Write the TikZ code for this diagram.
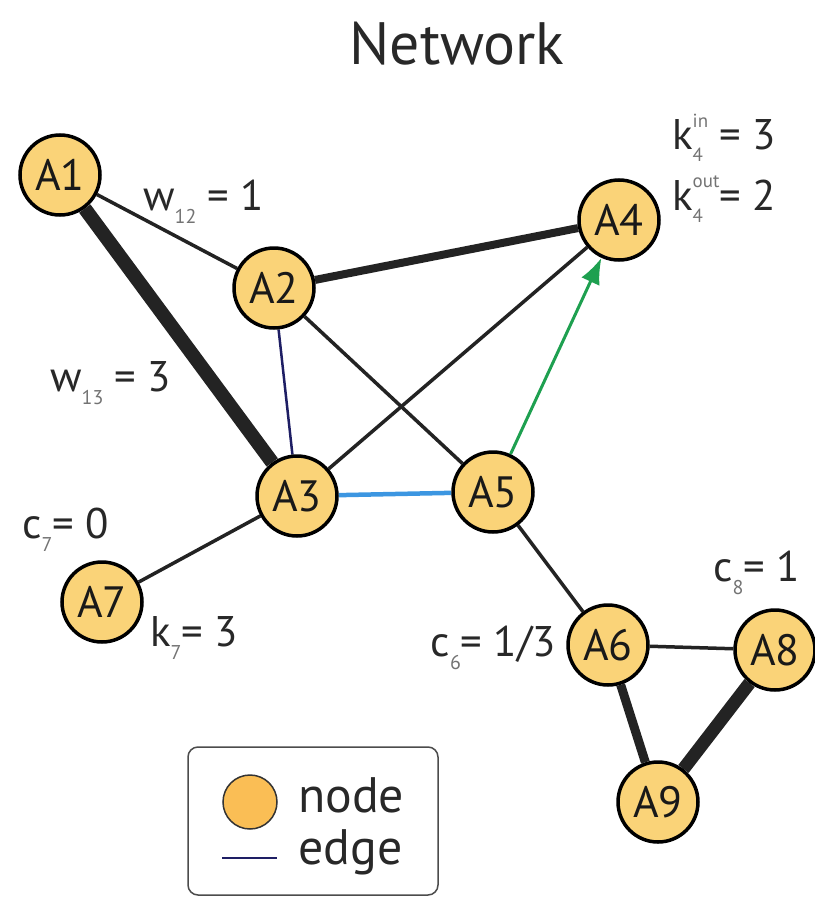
\documentclass[tikz,border=0pt]{standalone}
\usepackage{fontspec}
\setmainfont{PT Sans}
\usepackage{graphicx}
\usetikzlibrary{arrows.meta,backgrounds}
\definecolor{nodefill}{RGB}{250,211,120}
\definecolor{legfill}{RGB}{250,190,85}
\definecolor{edgecol}{RGB}{35,35,35}
\definecolor{txt}{RGB}{40,40,40}
\definecolor{subtxt}{RGB}{115,115,115}
\definecolor{navyedge}{RGB}{30,30,100}
\definecolor{lblue}{RGB}{60,150,225}
\definecolor{arrgreen}{RGB}{30,160,80}
\newcommand\mysub[1]{\raisebox{-0.3em}{\fontsize{20}{20}\selectfont\color{subtxt}#1}}
\newcommand\mysubsup[2]{\rlap{\raisebox{-0.28em}{\fontsize{19}{19}\selectfont\color{subtxt}#1}}\raisebox{0.52em}{\fontsize{19}{19}\selectfont\color{subtxt}#2}}
\begin{document}
\begin{tikzpicture}[x=1bp,y=-1bp,
  netnode/.style={circle,draw=black,line width=3.5bp,fill=nodefill,minimum size=80bp,inner sep=0pt,
    font=\fontsize{44}{44}\selectfont,text=black!90},
  edge/.style={draw=edgecol,line width=3.5bp},
  lbl/.style={inner sep=0pt,text=txt,font=\fontsize{43}{43}\selectfont}
]
\useasboundingbox (0,0) rectangle (815,898);
% title
\node[text=txt,font=\fontsize{60}{60}\selectfont] (title) at (457,44) {Network};
% nodes
\node[netnode] (A1) at (60,175) {A1};
\node[netnode] (A2) at (274,288) {A2};
\node[netnode] (A3) at (297,496) {A3};
\node[netnode] (A4) at (619,220) {A4};
\node[netnode] (A5) at (493,492) {A5};
\node[netnode] (A6) at (608,645) {A6};
\node[netnode] (A7) at (102,602) {A7};
\node[netnode] (A8) at (775,650) {A8};
\node[netnode] (A9) at (658,802) {A9};
% edges
\begin{scope}[on background layer]
\draw[edge] (A1) -- (A2);
\draw[edge,line width=14bp] (A1) -- (A3);
\draw[edge,line width=8bp] (A2) -- (A4);
\draw[draw=navyedge,line width=2.5bp] (A2) -- (A3);
\draw[edge] (A2) -- (A5);
\draw[edge] (A3) -- (A4);
\draw[draw=lblue,line width=4.5bp] (A3) -- (A5);
\draw[edge] (A3) -- (A7);
\draw[edge] (A5) -- (A6);
\draw[edge] (A6) -- (A8);
\draw[edge,line width=9bp] (A6) -- (A9);
\draw[edge,line width=13bp] (A8) -- (A9);
\end{scope}
\draw[draw=arrgreen,line width=3bp,-{Latex[length=26bp,width=20bp]}] (A5) -- (A4);
% labels
\node[lbl,anchor=west] (w12) at (143,202) {w\mysub{12} = 1};
\node[lbl,anchor=west] (w13) at (50,383) {w\mysub{13} = 3};
\node[lbl,anchor=west] (k4in) at (672,138) {k\mysubsup{4}{in} = 3};
\node[lbl,anchor=west] (k4out) at (672,199) {k\mysubsup{4}{out}= 2};
\node[lbl,anchor=west] (c7) at (22,530) {c\mysub{7}= 0};
\node[lbl,anchor=west] (k7) at (150,638) {k\mysub{7}= 3};
\node[lbl,anchor=east] (c6) at (556,648) {c\mysub{6}= 1/3};
\node[lbl,anchor=east] (c8) at (800,573) {c\mysub{8}= 1};
% legend
\node[draw=black!70,line width=1.5bp,rounded corners=10bp,minimum width=250bp,minimum height=148bp,inner sep=0pt] (legend) at (313,821) {};
\node[circle,draw=black!80,line width=1.5bp,fill=legfill,minimum size=54bp,inner sep=0pt] (legnode) at (250,802) {};
\coordinate (le1) at (222,858);
\coordinate (le2) at (277,858);
\draw[draw=navyedge,line width=2.5bp] (le1) -- (le2);
\node[lbl,anchor=west,font=\fontsize{50}{50}\selectfont] (tnode) at (298,795) {node};
\node[lbl,anchor=west,font=\fontsize{50}{50}\selectfont] (tedge) at (298,852) {edge};
\end{tikzpicture}
\end{document}
